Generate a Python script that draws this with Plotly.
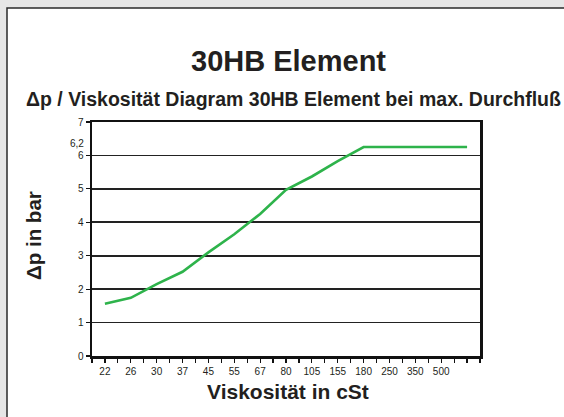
import plotly.graph_objects as go

categories = ["22", "26", "30", "37", "45", "55", "67", "80", "105", "155", "180", "250", "350", "500", ""]
dp_values = [1.56, 1.74, 2.15, 2.52, 3.1, 3.64, 4.25, 4.97, 5.37, 5.83, 6.25, 6.25, 6.25, 6.25, 6.25]
y_ticks = [0, 1, 2, 3, 4, 5, 6, 7]

title_text = "30HB Element"
subtitle_text = "Δp / Viskosität Diagram 30HB Element bei max. Durchfluß"
x_title = "Viskosität in cSt"
y_title = "Δp in bar"
extra_label = "6,2"

W, H = 564, 417
ML, MR, MT, MB = 92, 84, 122, 61
PW = W - ML - MR
PH = H - MT - MB


def px(x):
    return (x - ML) / PW


def py(y):
    return (H - MB - y) / PH


xs = list(range(len(categories)))

fig = go.Figure()
fig.add_trace(go.Scatter(
    x=xs, y=dp_values, mode="lines",
    line=dict(color="#2eb34b", width=2.6),
    showlegend=False, hoverinfo="skip",
))

bold = "Liberation Sans, Arial, sans-serif"
narrow = "Liberation Sans Narrow, Arial Narrow, Liberation Sans, Arial, sans-serif"

fig.update_layout(
    width=W, height=H,
    margin=dict(l=ML, r=MR, t=MT, b=MB, pad=0),
    paper_bgcolor="#e6e6e6",
    plot_bgcolor="white",
    showlegend=False,
    shapes=[
        dict(type="rect", xref="paper", yref="paper", layer="below",
             x0=px(7), x1=px(600), y0=py(440), y1=py(8),
             fillcolor="white", line=dict(color="#2a2a2a", width=1.5)),
    ],
    annotations=[
        dict(text="<b>%s</b>" % title_text, xref="paper", yref="paper",
             x=px(288), y=py(61), xanchor="center", yanchor="middle",
             showarrow=False, font=dict(family=bold, size=29, color="#231f20")),
        dict(text="<b>%s</b>" % subtitle_text, xref="paper", yref="paper",
             x=px(293), y=py(99), xanchor="center", yanchor="middle",
             showarrow=False, font=dict(family=bold, size=19.5, color="#231f20")),
        dict(text="<b>%s</b>" % y_title, xref="paper", yref="paper",
             x=px(33), y=py(236), xanchor="center", yanchor="middle", textangle=-90,
             showarrow=False, font=dict(family=bold, size=20.5, color="#231f20")),
        dict(text="<b>%s</b>" % x_title, xref="paper", yref="paper",
             x=px(288), y=py(391), xanchor="center", yanchor="middle",
             showarrow=False, font=dict(family=bold, size=21, color="#231f20")),
        dict(text=extra_label, xref="paper", yref="paper",
             x=px(86), y=py(143), xanchor="right", yanchor="middle",
             showarrow=False, font=dict(family=narrow, size=10, color="#231f20")),
    ],
)

fig.update_xaxes(
    range=[-0.5, len(categories) - 0.5],
    tickvals=xs, ticktext=categories,
    ticks="outside", ticklen=4, tickwidth=1.2, tickcolor="#111",
    minor=dict(ticks="outside", ticklen=4, tickwidth=1.2, tickcolor="#111", tick0=-0.5, dtick=1),
    showgrid=False, zeroline=False,
    showline=True, linecolor="#111", linewidth=2.5, mirror=True,
    tickfont=dict(family=narrow, size=10, color="#231f20"),
    fixedrange=True,
)
fig.update_yaxes(
    range=[0, 7], tickvals=y_ticks,
    ticks="outside", ticklen=4, tickwidth=1.2, tickcolor="#111",
    showgrid=True, gridcolor="#222222", gridwidth=1.6,
    zeroline=False,
    showline=True, linecolor="#111", linewidth=2.5, mirror=True,
    tickfont=dict(family=narrow, size=10, color="#231f20"),
    fixedrange=True,
)

fig.write_html(
    "out.html",
    config={"displayModeBar": False, "staticPlot": True},
    post_script="document.body.style.margin='0';document.body.style.background='#e6e6e6';",
)
